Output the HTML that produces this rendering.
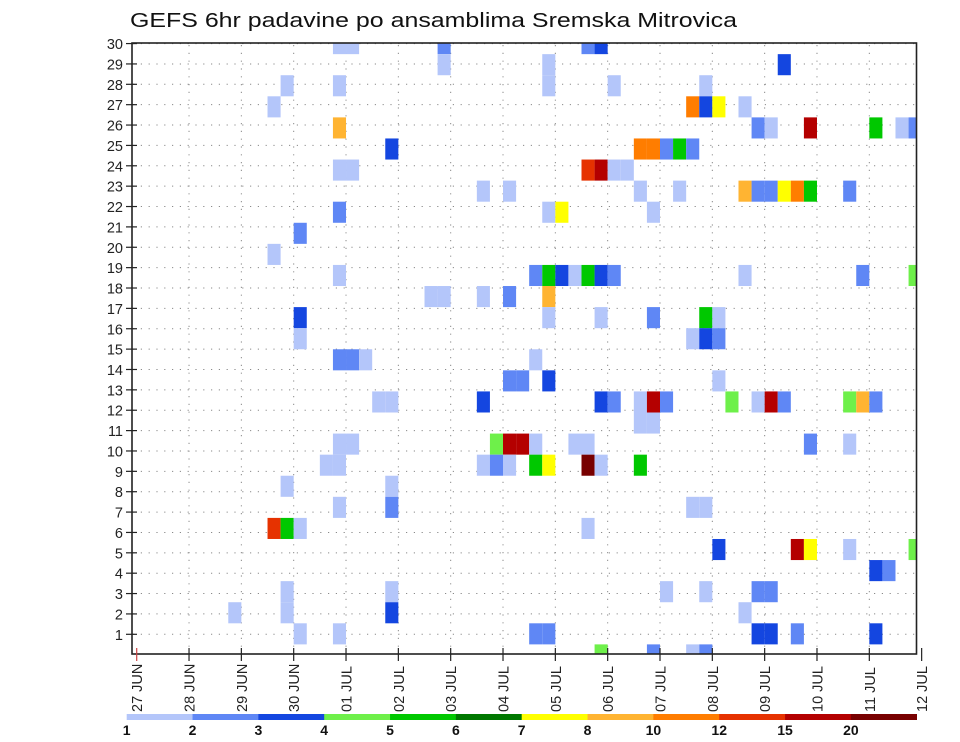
<!DOCTYPE html>
<html><head><meta charset="utf-8"><title>GEFS 6hr padavine</title>
<style>
html,body{margin:0;padding:0;background:#fff;}
svg{display:block;font-family:"Liberation Sans","DejaVu Sans",sans-serif;}
</style></head>
<body>
<svg id="chart" width="960" height="742" viewBox="0 0 960 742" xmlns="http://www.w3.org/2000/svg">
<text x="130" y="27" font-size="20" textLength="607" lengthAdjust="spacingAndGlyphs" fill="#111">GEFS 6hr padavine po ansamblima Sremska Mitrovica</text>
<defs><clipPath id="plotclip"><rect x="132" y="43" width="784.5" height="611"/></clipPath></defs>
<g id="grid"></g>
<g id="cells" clip-path="url(#plotclip)"></g>
<rect x="132" y="43" width="784.5" height="611" fill="none" stroke="#222" stroke-width="1.6"/>
<g id="yaxis"></g>
<g id="xaxis"></g>
<g id="legend"></g>
</svg>
<script>
// ---- data ----
const dayLabels = ["27 JUN","28 JUN","29 JUN","30 JUN","01 JUL","02 JUL","03 JUL","04 JUL","05 JUL","06 JUL","07 JUL","08 JUL","09 JUL","10 JUL","11 JUL","12 JUL"];
const memberLabels = [1,2,3,4,5,6,7,8,9,10,11,12,13,14,15,16,17,18,19,20,21,22,23,24,25,26,27,28,29,30];
const legendBounds = [1,2,3,4,5,6,7,8,10,12,15,20];
const legendColors = ["#b4c6fa","#5f87f5","#1446e0","#6ef04a","#00c800","#007800","#ffff00","#ffb432","#ff7d00","#e63200","#b40000","#780000"];
// 6-hour slot index from 27 JUN 00Z
const cellSlot = [
15,16,23,34,35,
23,31,49,
11,15,31,36,43,
10,42,43,44,46,
15,47,48,51,56,58,59,
19,38,39,40,41,42,
15,16,34,35,36,37,
26,28,38,41,46,47,48,49,50,51,54,
15,31,32,39,
12,
10,
15,30,31,32,33,34,35,36,46,55,59,
22,23,26,28,31,
12,31,35,39,43,44,
12,42,43,44,
15,16,17,30,
28,29,31,44,
18,19,26,35,36,38,39,40,45,47,48,49,54,55,56,
38,39,
15,16,27,28,29,30,33,34,51,54,
14,15,26,27,28,30,31,34,35,38,
11,19,
15,19,42,43,
10,11,12,34,
44,50,51,54,59,
56,57,
11,19,40,43,47,48,
7,11,19,46,
12,15,30,31,47,48,50,56,
35,39,42,43];
const cellMember = [
29,29,29,29,29,
28,28,28,
27,27,27,27,27,
26,26,26,26,26,
25,25,25,25,25,25,25,
24,24,24,24,24,24,
23,23,23,23,23,23,
22,22,22,22,22,22,22,22,22,22,22,
21,21,21,21,
20,
19,
18,18,18,18,18,18,18,18,18,18,18,
17,17,17,17,17,
16,16,16,16,16,16,
15,15,15,15,
14,14,14,14,
13,13,13,13,
12,12,12,12,12,12,12,12,12,12,12,12,12,12,12,
11,11,
10,10,10,10,10,10,10,10,10,10,
9,9,9,9,9,9,9,9,9,9,
8,8,
7,7,7,7,
6,6,6,6,
5,5,5,5,5,
4,4,
3,3,3,3,3,3,
2,2,2,2,
1,1,1,1,1,1,1,1,
0,0,0,0];
const cellPrecip = [
1.5,1.5,2.5,2.5,3.5,
1.5,1.5,3.5,
1.5,1.5,1.5,1.5,1.5,
1.5,11,3.5,7.5,1.5,
9,2.5,1.5,17,5.5,1.5,2.5,
3.5,11,11,2.5,5.5,2.5,
1.5,1.5,13.5,17,1.5,1.5,
1.5,1.5,1.5,1.5,9,2.5,2.5,7.5,11,5.5,2.5,
2.5,1.5,7.5,1.5,
2.5,
1.5,
1.5,2.5,5.5,3.5,1.5,5.5,3.5,2.5,1.5,2.5,4.5,
1.5,1.5,1.5,2.5,9,
3.5,1.5,1.5,2.5,5.5,1.5,
1.5,1.5,3.5,2.5,
2.5,2.5,1.5,1.5,
2.5,2.5,3.5,1.5,
1.5,1.5,3.5,3.5,2.5,1.5,17,2.5,4.5,1.5,17,2.5,4.5,9,2.5,
1.5,1.5,
1.5,1.5,4.5,17,17,1.5,1.5,1.5,2.5,1.5,
1.5,1.5,1.5,2.5,1.5,5.5,7.5,22,1.5,5.5,
1.5,1.5,
1.5,2.5,1.5,1.5,
13.5,5.5,1.5,1.5,
3.5,17,7.5,1.5,4.5,
3.5,2.5,
1.5,1.5,1.5,1.5,2.5,2.5,
1.5,1.5,3.5,1.5,
1.5,1.5,2.5,2.5,3.5,3.5,2.5,3.5,
4.5,2.5,1.5,2.5];

// ---- scales ----
const NS="http://www.w3.org/2000/svg";
const X0=136.7, DAYW=52.33;
function xHours(h){return X0 + h/24*DAYW;}
function yLabel(m){return 634.3-(m-1)*20.37;}
function cellTop(m){return 623.3-(m-1)*21.08;}
const CELLH=21.08;
function colorFor(v){let c=legendColors[0];for(let i=0;i<legendBounds.length;i++){if(v>=legendBounds[i])c=legendColors[i];}return c;}
function mk(tag,attrs,parent){const e=document.createElementNS(NS,tag);for(const k in attrs)e.setAttribute(k,attrs[k]);parent.appendChild(e);return e;}

const grid=document.getElementById('grid');
const yaxis=document.getElementById('yaxis');
const xaxis=document.getElementById('xaxis');
const cells=document.getElementById('cells');
const legend=document.getElementById('legend');

// grid
memberLabels.forEach(m=>{
  const y=yLabel(m);
  const l=mk('line',{x1:133,x2:916,y1:y,y2:y,stroke:'#8a8a8a','stroke-width':1,'stroke-dasharray':'1.2 6.6'},grid);
  
  
  const t=mk('line',{x1:126,x2:137,y1:y,y2:y,stroke:'#222','stroke-width':1.2},yaxis);
  
  
  const tx=mk('text',{x:123,y:y+5.5,'text-anchor':'end','font-size':14.5,fill:'#222'},yaxis);
  tx.textContent=m;
  
  
});
dayLabels.forEach((d,i)=>{
  const x=xHours(i*24);
  if(i>0&&x<916){
    const l=mk('line',{x1:x,x2:x,y1:45,y2:653,stroke:'#8a8a8a','stroke-width':1,'stroke-dasharray':'1.2 6.6'},grid);
    
    
  }
  const t=mk('line',{x1:x,x2:x,y1:648,y2:661,stroke:i==0?'#c44':'#222','stroke-width':1.2},xaxis);
  
  
  const tx=mk('text',{x:0,y:0,'font-size':14.5,fill:'#222',transform:'translate('+(x+5.5)+',712) rotate(-90)'},xaxis);
  tx.textContent=d;
  
  
});

// cells
for(let i=0;i<cellSlot.length;i++){
  const x1=xHours(cellSlot[i]*6), x2=xHours(cellSlot[i]*6+6);
  const r=mk('rect',{x:x1,y:cellTop(cellMember[i]),width:x2-x1,height:CELLH,fill:colorFor(cellPrecip[i])},cells);
  
  
}

// legend
const LX0=126.7, LX1=916.7, segW=(LX1-LX0)/legendColors.length;
legendColors.forEach((c,i)=>{
  const r=mk('rect',{x:LX0+i*segW,y:714,width:segW+0.3,height:6,fill:c},legend);
  
  
});
legendBounds.forEach((b,i)=>{
  const t=mk('text',{x:LX0+i*segW,y:735,'text-anchor':'middle','font-size':14,'font-weight':'bold',fill:'#111'},legend);
  t.textContent=b;
  
  
});
</script>
</body></html>
